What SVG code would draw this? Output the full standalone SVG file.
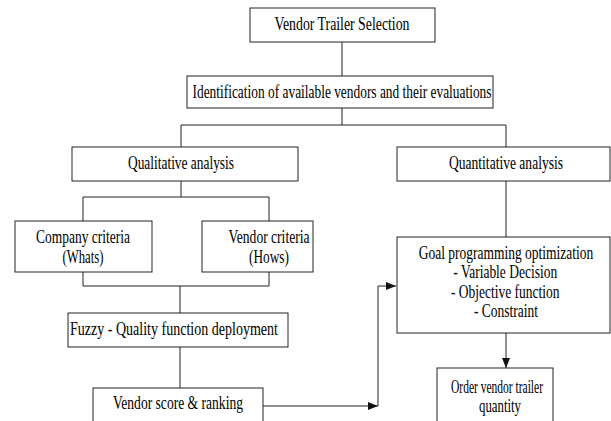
<svg xmlns="http://www.w3.org/2000/svg" width="611" height="421" viewBox="0 0 611 421">
<defs>
<style>
rect{fill:#fff;stroke:#222;stroke-width:1}
.c path{fill:none;stroke:#222;stroke-width:1}
text{font-family:"Liberation Serif","Times New Roman",serif;font-size:18px;fill:#000;text-anchor:middle}
</style>
<marker id="ah" markerWidth="10" markerHeight="8" refX="10" refY="4" orient="auto" markerUnits="userSpaceOnUse">
<path d="M0,0 L10,4 L0,8 Z" fill="#111"/>
</marker>
</defs>
<rect x="0" y="0" width="611" height="421" style="stroke:none"/>
<g class="c" id="connectors">
<path d="M342,42 V76"/>
<path d="M342,108 V125 M181,125 H506 M181,125 V147 M506,125 V147"/>
<path d="M181,181 V197 M83,197 H269 M83,197 V221 M269,197 V221"/>
<path d="M83,272 V286 H269 V272 M180,286 V313"/>
<path d="M180,347 V388"/>
<path d="M506,181 V237"/>
<path d="M506,333 V368" marker-end="url(#ah)"/>
<path d="M263,406 H378" marker-end="url(#ah)"/>
<path d="M378,406 V286 H396" marker-end="url(#ah)"/>
</g>
<g id="n1"><rect x="250" y="8" width="185" height="34"/><text x="342" y="30" textLength="135" lengthAdjust="spacingAndGlyphs">Vendor Trailer Selection</text></g>
<g id="n2"><rect x="187" y="76" width="306" height="32"/><text x="342" y="98" textLength="299" lengthAdjust="spacingAndGlyphs">Identification of available vendors and their evaluations</text></g>
<g id="n3"><rect x="72" y="147" width="226" height="34"/><text x="181" y="169" textLength="106" lengthAdjust="spacingAndGlyphs">Qualitative analysis</text></g>
<g id="n4"><rect x="397" y="147" width="213" height="34"/><text x="506" y="169" textLength="114" lengthAdjust="spacingAndGlyphs">Quantitative analysis</text></g>
<g id="n5"><rect x="15" y="221" width="137" height="51"/><text x="83" y="243" textLength="94" lengthAdjust="spacingAndGlyphs">Company criteria</text><text x="83" y="263" textLength="41" lengthAdjust="spacingAndGlyphs">(Whats)</text></g>
<g id="n6"><rect x="202" y="221" width="111" height="51"/><text x="269" y="243" textLength="81" lengthAdjust="spacingAndGlyphs">Vendor criteria</text><text x="269" y="263" textLength="40" lengthAdjust="spacingAndGlyphs">(Hows)</text></g>
<g id="n7"><rect x="397" y="237" width="213" height="96"/>
<g transform="translate(506 0) scale(0.75 1) translate(-506 0)">
<text x="506" y="259">Goal programming optimization</text><text x="505" y="278.5">- Variable Decision</text><text x="505" y="298">- Objective function</text><text x="506" y="317.5">- Constraint</text>
</g></g>
<g id="n8"><rect x="68" y="313" width="220" height="34"/><text x="174" y="335" textLength="208" lengthAdjust="spacingAndGlyphs">Fuzzy - Quality function deployment</text></g>
<g id="n9"><rect x="93" y="388" width="170" height="40"/><text x="178" y="409" textLength="130" lengthAdjust="spacingAndGlyphs">Vendor score &amp; ranking</text></g>
<g id="n10"><rect x="437" y="368" width="116" height="60"/><text x="497" y="393" textLength="92" lengthAdjust="spacingAndGlyphs">Order vendor trailer</text><text x="500" y="412" textLength="42" lengthAdjust="spacingAndGlyphs">quantity</text></g>
</svg>
